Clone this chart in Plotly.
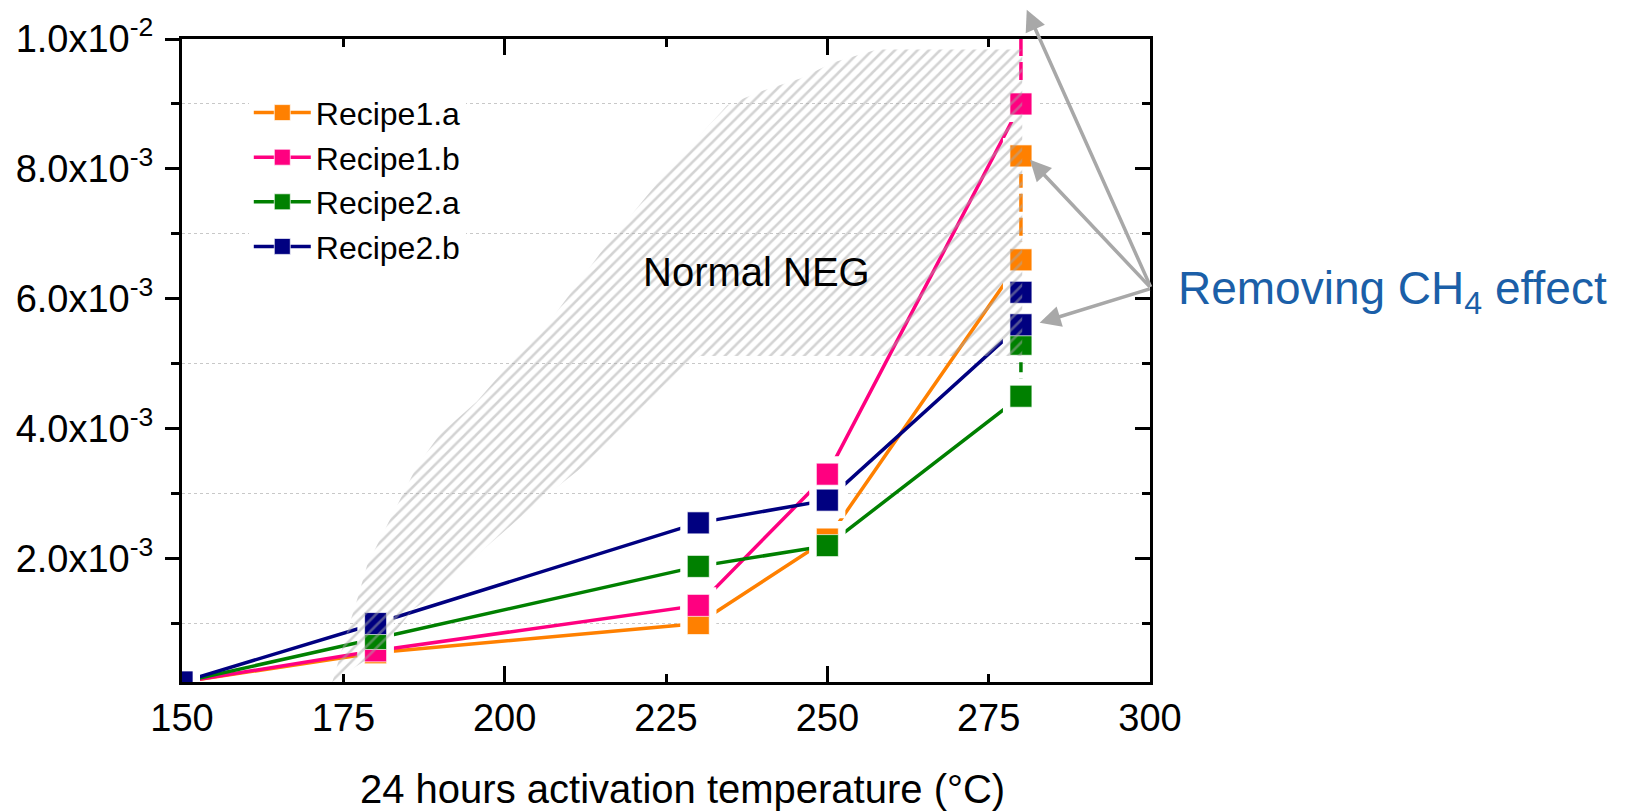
import plotly.graph_objects as go

# Activation temperature (°C) and measured values for each recipe
temperature = [150, 180, 230, 250, 280]
recipe1a = [1.0e-4, 0.55e-3, 1.0e-3, 2.3e-3, 6.6e-3]
recipe1b = [1.0e-4, 0.58e-3, 1.28e-3, 3.3e-3, 9.0e-3]
recipe2a = [1.0e-4, 0.77e-3, 1.88e-3, 2.2e-3, 4.5e-3]
recipe2b = [1.0e-4, 1.0e-3, 2.55e-3, 2.9e-3, 5.6e-3]

# Values at 280 °C after removing the CH4 contribution
ch4_free_temp = 280
recipe1a_ch4_free = 8.2e-3
recipe1b_ch4_free = 1.03e-2
recipe2a_ch4_free = 5.3e-3
recipe2b_ch4_free = 6.1e-3

series_names = ["Recipe1.a", "Recipe1.b", "Recipe2.a", "Recipe2.b"]
series_colors = ["#FF8000", "#FF0080", "#008000", "#000080"]

# Outline of the "Normal NEG" band
neg_band_x = [173.3, 174.1, 175.6, 177.2, 178.7, 181.2, 183.8, 186.4, 190.0, 195.7,
              201.3, 206.5, 214.8, 225.2, 234.5, 239.6, 245.8, 250.9, 257.7, 280.2,
              280.2, 230.3, 227.7, 219.9, 212.2, 204.4, 196.7, 190.0, 185.8, 180.7, 173.3]
neg_band_y = [0.10e-3, 0.38e-3, 0.88e-3, 1.39e-3, 1.90e-3, 2.40e-3, 2.90e-3, 3.42e-3, 3.92e-3, 4.42e-3,
              5.06e-3, 5.59e-3, 6.70e-3, 7.97e-3, 8.98e-3, 9.19e-3, 9.39e-3, 9.64e-3, 9.84e-3, 9.84e-3,
              5.12e-3, 5.12e-3, 4.94e-3, 4.18e-3, 3.42e-3, 2.81e-3, 2.14e-3, 1.49e-3, 1.22e-3, 0.58e-3, 0.10e-3]

x_range = [150, 300]
y_range = [1.0e-4, 1.0e-2]
x_tick_vals = [150, 175, 200, 225, 250, 275, 300]
x_major_vals = [150, 200, 250, 300]
y_tick_vals = [2e-3, 4e-3, 6e-3, 8e-3, 1e-2]
y_tick_text = ["2.0x10<sup>-3</sup>", "4.0x10<sup>-3</sup>", "6.0x10<sup>-3</sup>",
               "8.0x10<sup>-3</sup>", "1.0x10<sup>-2</sup>"]
y_minor_vals = [1e-3, 3e-3, 5e-3, 7e-3, 9e-3]

FONT = "Arial, Liberation Sans, sans-serif"
series = [recipe1a, recipe1b, recipe2a, recipe2b]
ch4_free = [recipe1a_ch4_free, recipe1b_ch4_free, recipe2a_ch4_free, recipe2b_ch4_free]

fig = go.Figure()

# solid connecting lines
for vals, col in zip(series, series_colors):
    fig.add_trace(go.Scatter(x=temperature, y=vals, mode="lines",
                             line=dict(color=col, width=3.5),
                             showlegend=False, hoverinfo="skip"))
# dashed jump at 280 °C
for vals, extra, col in zip(series, ch4_free, series_colors):
    fig.add_trace(go.Scatter(x=[ch4_free_temp, ch4_free_temp], y=[vals[-1], extra], mode="lines",
                             line=dict(color=col, width=3.5, dash="18px,6px"),
                             showlegend=False, hoverinfo="skip"))
# white gaps around the symbols
for vals, extra in zip(series, ch4_free):
    fig.add_trace(go.Scatter(x=temperature + [ch4_free_temp], y=vals + [extra], mode="markers",
                             marker=dict(symbol="square", size=36, color="white", line=dict(width=0)),
                             showlegend=False, hoverinfo="skip"))
# symbols
for vals, extra, col, name in zip(series, ch4_free, series_colors, series_names):
    fig.add_trace(go.Scatter(x=temperature + [ch4_free_temp], y=vals + [extra], mode="markers", name=name,
                             marker=dict(symbol="square", size=22, color=col,
                                         line=dict(width=1, color="rgba(255,255,255,0.7)")),
                             showlegend=False))

# hatched band
fig.add_trace(go.Scatter(x=neg_band_x, y=neg_band_y, mode="lines", fill="toself",
                         line=dict(width=0, color="rgba(0,0,0,0)"),
                         fillcolor="rgba(0,0,0,0)",
                         fillpattern=dict(shape="/", fgcolor="#a8a8a8", bgcolor="rgba(255,255,255,0)",
                                          size=8, solidity=0.32),
                         showlegend=False, hoverinfo="skip"))

# legend entries
for col, name in zip(series_colors, series_names):
    fig.add_trace(go.Scatter(x=[None], y=[None], mode="lines+markers", name=name,
                             line=dict(color=col, width=3.5),
                             marker=dict(symbol="square", size=22, color=col,
                                         line=dict(width=1, color="rgba(255,255,255,0.7)"))))

# helper traces for the secondary tick axes
fig.add_trace(go.Scatter(x=[None], y=[None], xaxis="x2", yaxis="y", showlegend=False, hoverinfo="skip"))
fig.add_trace(go.Scatter(x=[None], y=[None], xaxis="x", yaxis="y2", showlegend=False, hoverinfo="skip"))

annotations = [
    dict(x=239, y=6.41e-3, xref="x", yref="y", text="Normal NEG", showarrow=False,
         font=dict(family=FONT, size=40, color="black")),
    dict(x=0.5167, y=-0.166, xref="paper", yref="paper", text="24 hours activation temperature (°C)",
         showarrow=False, yanchor="middle", font=dict(family=FONT, size=40, color="black")),
    dict(x=1.0268, y=0.608, xref="paper", yref="paper", xanchor="left", yanchor="middle",
         text="Removing CH<sub>4</sub> effect", showarrow=False,
         font=dict(family=FONT, size=46, color="#1b5fa8")),
]
arrow_tips = [(280.9, 1.045e-2), (281.4, 8.14e-3), (282.9, 5.63e-3)]
for tx, ty in arrow_tips:
    annotations.append(dict(x=tx, y=ty, xref="x", yref="y", ax=300.2, ay=6.16e-3, axref="x", ayref="y",
                            text="", showarrow=True, arrowhead=2, arrowsize=1.2, arrowwidth=3.5,
                            arrowcolor="#a8a8a8", standoff=0, startstandoff=0))

fig.update_layout(
    width=1632, height=812,
    margin=dict(l=182, r=482, t=29, b=130),
    paper_bgcolor="white", plot_bgcolor="white",
    font=dict(family=FONT, color="black"),
    showlegend=True,
    legend=dict(x=0.069, y=0.928, xanchor="left", yanchor="top", bgcolor="white", borderwidth=0,
                font=dict(family=FONT, size=32, color="black"), itemwidth=57, tracegroupgap=0),
    annotations=annotations,
    xaxis=dict(range=x_range, tickvals=x_tick_vals, ticks="inside", ticklen=8, tickwidth=2.5,
               tickcolor="black", showline=True, linewidth=3, linecolor="black", mirror="ticks",
               showgrid=False, zeroline=False, tickfont=dict(family=FONT, size=38),
               ticklabelstandoff=0),
    xaxis2=dict(range=x_range, overlaying="x", anchor="y", side="bottom", tickvals=x_major_vals,
                ticks="inside", ticklen=16, tickwidth=2.5, tickcolor="black", mirror="ticks",
                showticklabels=False, showline=False, showgrid=False, zeroline=False),
    yaxis=dict(range=y_range, tickvals=y_tick_vals, ticktext=y_tick_text, ticks="outside",
               ticklen=14, tickwidth=2.5, tickcolor="black", showline=True, linewidth=3,
               linecolor="black", mirror=True, showgrid=False, zeroline=False,
               tickfont=dict(family=FONT, size=38), ticklabelstandoff=4,
               minor=dict(tickvals=y_minor_vals, ticks="outside", ticklen=8, tickwidth=2.5,
                          tickcolor="black", showgrid=True, gridcolor="#c8c8c8", griddash="dot",
                          gridwidth=1.2)),
    yaxis2=dict(range=y_range, overlaying="y", anchor="x", side="right", tickvals=y_tick_vals,
                ticks="inside", ticklen=15, tickwidth=2.5, tickcolor="black", showticklabels=False,
                showline=False, showgrid=False, zeroline=False,
                minor=dict(tickvals=y_minor_vals, ticks="inside", ticklen=8, tickwidth=2.5,
                           tickcolor="black", showgrid=False)),
)

fig.write_html("out.html")
